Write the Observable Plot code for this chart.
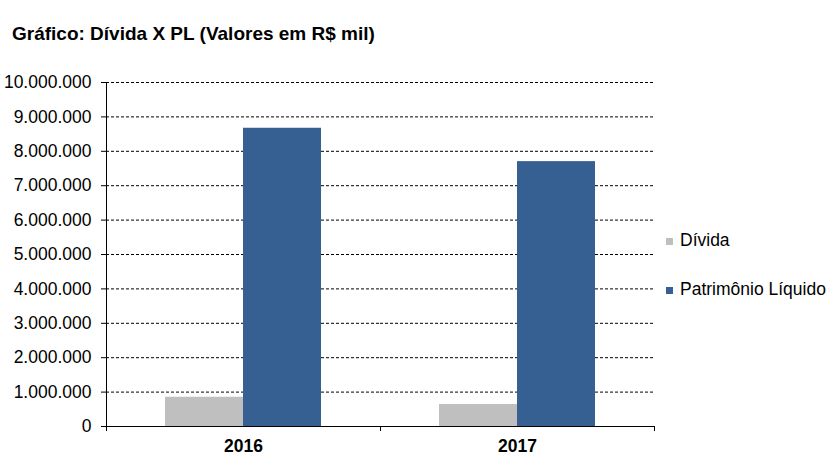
<!DOCTYPE html>
<html><head><meta charset="utf-8">
<script src="https://cdn.jsdelivr.net/npm/d3@7"></script>
<script src="https://cdn.jsdelivr.net/npm/@observablehq/plot@0.6"></script>
<style>
body{margin:0;background:#fff;font-family:"Liberation Sans",Arial,sans-serif;color:#000;}
#wrap{position:relative;width:840px;height:470px;overflow:hidden;}
#chart{position:absolute;left:0;top:0;}
#title{position:absolute;left:12px;top:24px;font-weight:bold;font-size:19px;line-height:19px;white-space:nowrap;}
.lg{position:absolute;font-size:17.5px;line-height:17.5px;white-space:nowrap;}
.sw{position:absolute;width:7px;height:7px;}
</style></head>
<body><div id="wrap"><div id="chart"></div><div id="title">Gráfico: Dívida X PL (Valores em R$ mil)</div><div id="legend"></div></div>
<script>
const years = ["2016", "2017"];
const series = ["Dívida", "Patrimônio Líquido"];
const divida = [850000, 640000];
const patrimonio = [8670000, 7700000];
const colors = ["#BFBFBF", "#376092"];
const yTicks = [0, 1000000, 2000000, 3000000, 4000000, 5000000, 6000000, 7000000, 8000000, 9000000, 10000000];

const table = years.flatMap((yr, i) => [
  {year: yr, series: series[0], value: divida[i]},
  {year: yr, series: series[1], value: patrimonio[i]}
]);

const fmt = d3.formatLocale({decimal: ",", thousands: ".", grouping: [3], currency: ["R$ ", ""]}).format(",d");

const plot = Plot.plot({
  width: 840, height: 470,
  marginTop: 82, marginBottom: 44, marginLeft: 105, marginRight: 186,
  style: {fontFamily: "'Liberation Sans', Arial, sans-serif", fontSize: "17.5px", color: "#000", background: "#fff", overflow: "visible"},
  fx: {domain: years, padding: 0, label: null},
  x: {domain: series, paddingInner: 0, paddingOuter: 0.74, axis: null},
  y: {domain: [0, 10000000], label: null},
  color: {domain: series, range: colors},
  marks: [
    Plot.gridY(yTicks.filter(d => d > 0), {stroke: "#000", strokeOpacity: 1, strokeWidth: 1, strokeDasharray: "3,2"}),
    Plot.barY(table, {fx: "year", x: "series", y: "value", fill: "series"}),
    Plot.ruleY([0], {stroke: "#000", strokeWidth: 1}),
    Plot.axisY({ticks: yTicks, tickFormat: fmt, tickSize: 5, tickPadding: 10, label: null, stroke: "#000"}),
    Plot.axisFx({anchor: "bottom", tickSize: 0, tickPadding: 13, label: null, fontWeight: "bold"})
  ]
});
document.getElementById("chart").appendChild(plot);

// axis lines and category boundary ticks drawn from the library's scales
const ys = plot.scale("y"), fxs = plot.scale("fx");
const svg = d3.select(plot);
const x0 = fxs.apply(years[0]);
const bounds = years.map(d => fxs.apply(d)).concat([fxs.apply(years[years.length - 1]) + fxs.bandwidth]);
const g = svg.append("g").attr("stroke", "#000").attr("stroke-width", 1);
g.append("line").attr("x1", x0 + 0.5).attr("x2", x0 + 0.5).attr("y1", ys.apply(10000000)).attr("y2", ys.apply(0) + 5);
bounds.forEach(b => g.append("line").attr("x1", b + 0.5).attr("x2", b + 0.5).attr("y1", ys.apply(0)).attr("y2", ys.apply(0) + 5));

// legend
const legend = document.getElementById("legend");
const legendTops = [232, 281];
series.forEach((s, i) => {
  const sw = document.createElement("div");
  sw.className = "sw";
  sw.style.left = "666px";
  sw.style.top = (legendTops[i] + 6) + "px";
  sw.style.background = colors[i];
  legend.appendChild(sw);
  const t = document.createElement("div");
  t.className = "lg";
  t.style.left = "680px";
  t.style.top = legendTops[i] + "px";
  t.textContent = s;
  legend.appendChild(t);
});
</script>
</body></html>
